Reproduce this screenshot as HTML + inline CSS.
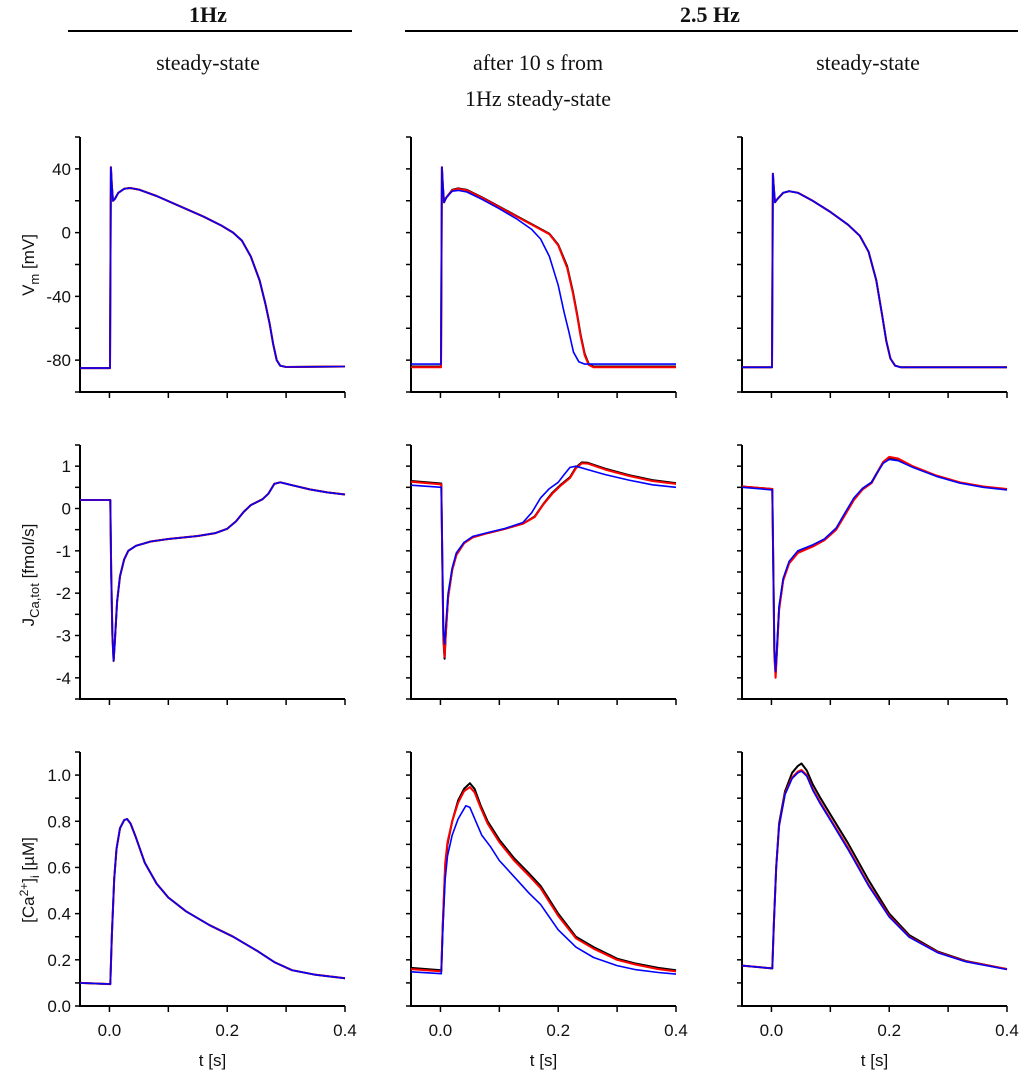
<!DOCTYPE html>
<html><head><meta charset="utf-8"><style>
body{margin:0;background:#fff}
svg{display:block}
.tk{font-family:"Liberation Sans",sans-serif;font-size:17px;fill:#111}
.hd{font-family:"Liberation Serif",serif;font-size:22px;fill:#111}
</style></head><body>
<svg id="fig" width="1024" height="1075" viewBox="0 0 1024 1075">
<g>
<text class="hd" x="208" y="22" text-anchor="middle" font-weight="bold">1Hz</text>
<line x1="68" y1="31" x2="352" y2="31" stroke="#000" stroke-width="2"/>
<text class="hd" x="710" y="22" text-anchor="middle" font-weight="bold">2.5 Hz</text>
<line x1="405" y1="31" x2="1018" y2="31" stroke="#000" stroke-width="2"/>
<text class="hd" x="208" y="70" text-anchor="middle">steady-state</text>
<text class="hd" x="538" y="70" text-anchor="middle">after  10 s  from</text>
<text class="hd" x="538" y="106" text-anchor="middle">1Hz steady-state</text>
<text class="hd" x="868" y="70" text-anchor="middle">steady-state</text>
</g>
<text class="tk" transform="translate(34,265) rotate(-90)" text-anchor="middle" font-size="18">V<tspan font-size="13" dy="5">m</tspan><tspan dy="-5">  [mV]</tspan></text>
<text class="tk" transform="translate(34,575) rotate(-90)" text-anchor="middle" font-size="18">J<tspan font-size="13" dy="5">Ca,tot</tspan><tspan dy="-5">  [fmol/s]</tspan></text>
<text class="tk" transform="translate(34,880) rotate(-90)" text-anchor="middle" font-size="18">[Ca<tspan font-size="12" dy="-6">2+</tspan><tspan dy="6">]</tspan><tspan font-size="12" dy="5">i</tspan><tspan dy="-5">  [µM]</tspan></text>
</svg>
<script>
// x-axis
const xMin=-0.05, xMax=0.4;
const xTicks=[0,0.1,0.2,0.3,0.4];
const xTickLabels=["0.0","0.2","0.4"];
const xLabelVals=[0,0.2,0.4];
// y-axes per row
const vmRange=[-100,60], vmTicks=[-100,-80,-60,-40,-20,0,20,40,60], vmLabelVals=[-80,-40,0,40], vmLabels=["-80","-40","0","40"];
const jRange=[-4.5,1.5], jTicks=[-4.5,-4,-3.5,-3,-2.5,-2,-1.5,-1,-0.5,0,0.5,1,1.5], jLabelVals=[-4,-3,-2,-1,0,1], jLabels=["-4","-3","-2","-1","0","1"];
const caRange=[0,1.1], caTicks=[0,0.1,0.2,0.3,0.4,0.5,0.6,0.7,0.8,0.9,1.0,1.1], caLabelVals=[0,0.2,0.4,0.6,0.8,1.0], caLabels=["0.0","0.2","0.4","0.6","0.8","1.0"];

// Vm data [t, mV]
const vm1=[[-0.05,-85],[0.001,-85],[0.0025,41],[0.004,30],[0.006,20],[0.009,21],[0.015,25],[0.025,27.5],[0.035,28],[0.05,27],[0.08,23],[0.12,16.5],[0.16,10],[0.19,4.5],[0.21,0],[0.225,-5],[0.24,-15],[0.255,-30],[0.265,-45],[0.272,-57],[0.278,-70],[0.284,-80],[0.29,-83.5],[0.3,-84.3],[0.4,-84]];
const vm2Red=[[-0.05,-84.5],[0.001,-84.5],[0.0025,41],[0.004,30],[0.006,19],[0.01,22],[0.02,26.5],[0.03,27.5],[0.045,26.5],[0.07,22],[0.1,16],[0.13,10],[0.16,4],[0.185,-1],[0.2,-8],[0.215,-22],[0.225,-38],[0.232,-52],[0.238,-65],[0.245,-77],[0.252,-83],[0.26,-84.5],[0.4,-84.5]];
const vm2Black=[[-0.05,-84],[0.001,-84],[0.0025,41],[0.004,30],[0.006,19],[0.01,22],[0.02,26.8],[0.03,27.8],[0.045,26.8],[0.07,22.3],[0.1,16.3],[0.13,10.3],[0.16,4.3],[0.185,-0.7],[0.2,-7.5],[0.215,-21],[0.225,-37],[0.232,-51],[0.238,-64],[0.245,-76],[0.252,-82.5],[0.26,-84],[0.4,-84]];
const vm2Blue=[[-0.05,-82.5],[0.001,-82.5],[0.0025,41],[0.004,30],[0.006,19],[0.01,22],[0.02,26],[0.03,26.5],[0.045,25.5],[0.07,21],[0.1,15],[0.13,8.5],[0.155,2],[0.17,-4],[0.185,-15],[0.2,-33],[0.21,-50],[0.218,-62],[0.226,-75],[0.235,-81],[0.245,-82.5],[0.4,-82.5]];
const vm3=[[-0.05,-84.5],[0.001,-84.5],[0.0025,37],[0.004,28],[0.006,19],[0.01,21],[0.02,25],[0.03,26],[0.045,25],[0.07,20],[0.1,13],[0.13,5],[0.15,-2],[0.165,-12],[0.178,-30],[0.188,-52],[0.195,-68],[0.202,-79],[0.21,-83.5],[0.22,-84.5],[0.4,-84.5]];

// J_Ca,tot data [t, fmol/s]
const j1=[[-0.05,0.2],[0.0015,0.2],[0.003,-1.5],[0.005,-3.0],[0.007,-3.6],[0.009,-3.2],[0.013,-2.2],[0.018,-1.6],[0.025,-1.2],[0.032,-1.0],[0.045,-0.88],[0.07,-0.78],[0.1,-0.72],[0.15,-0.65],[0.18,-0.58],[0.2,-0.48],[0.215,-0.3],[0.228,-0.08],[0.24,0.08],[0.26,0.22],[0.27,0.35],[0.28,0.58],[0.29,0.62],[0.31,0.55],[0.34,0.45],[0.37,0.38],[0.4,0.33]];
const j2Red=[[-0.05,0.63],[0.0015,0.57],[0.003,-1],[0.005,-3.0],[0.007,-3.5],[0.009,-3.0],[0.013,-2.1],[0.02,-1.45],[0.027,-1.1],[0.04,-0.82],[0.055,-0.68],[0.08,-0.58],[0.11,-0.48],[0.14,-0.36],[0.16,-0.2],[0.175,0.1],[0.19,0.35],[0.205,0.55],[0.22,0.72],[0.23,0.95],[0.24,1.07],[0.25,1.06],[0.28,0.92],[0.32,0.77],[0.36,0.65],[0.4,0.58]];
const j2Black=[[-0.05,0.65],[0.0015,0.59],[0.003,-1],[0.005,-3.1],[0.007,-3.55],[0.009,-3.0],[0.013,-2.1],[0.02,-1.45],[0.027,-1.1],[0.04,-0.82],[0.055,-0.68],[0.08,-0.58],[0.11,-0.48],[0.14,-0.36],[0.16,-0.19],[0.175,0.11],[0.19,0.37],[0.205,0.57],[0.22,0.74],[0.23,0.97],[0.24,1.09],[0.25,1.08],[0.28,0.94],[0.32,0.79],[0.36,0.67],[0.4,0.6]];
const j2Blue=[[-0.05,0.55],[0.0015,0.5],[0.003,-1],[0.005,-2.9],[0.007,-3.2],[0.009,-2.8],[0.013,-2.0],[0.02,-1.4],[0.027,-1.05],[0.04,-0.8],[0.055,-0.66],[0.08,-0.57],[0.11,-0.47],[0.14,-0.33],[0.155,-0.1],[0.17,0.25],[0.185,0.47],[0.2,0.62],[0.21,0.8],[0.22,0.97],[0.23,1.0],[0.25,0.92],[0.28,0.8],[0.32,0.67],[0.36,0.56],[0.4,0.5]];
const j3Red=[[-0.05,0.52],[0.0015,0.46],[0.003,-1.2],[0.005,-3.5],[0.007,-4.0],[0.009,-3.5],[0.013,-2.4],[0.02,-1.7],[0.03,-1.3],[0.045,-1.05],[0.07,-0.9],[0.09,-0.75],[0.11,-0.5],[0.125,-0.15],[0.14,0.2],[0.155,0.45],[0.17,0.6],[0.18,0.85],[0.19,1.1],[0.2,1.22],[0.215,1.18],[0.24,1.0],[0.28,0.78],[0.32,0.62],[0.36,0.52],[0.4,0.46]];
const j3Black=[[-0.05,0.52],[0.0015,0.46],[0.003,-1.2],[0.005,-3.4],[0.007,-3.9],[0.009,-3.45],[0.013,-2.35],[0.02,-1.68],[0.03,-1.28],[0.045,-1.03],[0.07,-0.88],[0.09,-0.73],[0.11,-0.48],[0.125,-0.13],[0.14,0.22],[0.155,0.47],[0.17,0.62],[0.18,0.86],[0.19,1.1],[0.2,1.2],[0.215,1.16],[0.24,0.99],[0.28,0.77],[0.32,0.61],[0.36,0.51],[0.4,0.45]];
const j3Blue=[[-0.05,0.5],[0.0015,0.44],[0.003,-1.2],[0.005,-3.35],[0.007,-3.85],[0.009,-3.4],[0.013,-2.3],[0.02,-1.65],[0.03,-1.25],[0.045,-1.0],[0.07,-0.86],[0.09,-0.72],[0.11,-0.46],[0.125,-0.1],[0.14,0.25],[0.155,0.48],[0.17,0.62],[0.18,0.85],[0.19,1.07],[0.2,1.16],[0.215,1.13],[0.24,0.97],[0.28,0.76],[0.32,0.6],[0.36,0.5],[0.4,0.44]];

// [Ca2+]i data [t, µM]
const ca1=[[-0.05,0.1],[0.0015,0.095],[0.004,0.3],[0.008,0.55],[0.012,0.68],[0.018,0.77],[0.025,0.805],[0.03,0.81],[0.036,0.79],[0.045,0.73],[0.06,0.62],[0.08,0.53],[0.1,0.47],[0.13,0.41],[0.17,0.35],[0.21,0.3],[0.25,0.24],[0.28,0.19],[0.31,0.155],[0.35,0.135],[0.4,0.12]];
const ca2Black=[[-0.05,0.165],[0.0015,0.155],[0.004,0.35],[0.008,0.6],[0.012,0.7],[0.02,0.8],[0.03,0.89],[0.04,0.94],[0.05,0.965],[0.058,0.94],[0.068,0.87],[0.08,0.8],[0.1,0.72],[0.125,0.64],[0.15,0.575],[0.17,0.52],[0.2,0.4],[0.23,0.3],[0.26,0.255],[0.3,0.205],[0.33,0.185],[0.37,0.165],[0.4,0.155]];
const ca2Red=[[-0.05,0.16],[0.0015,0.15],[0.004,0.36],[0.008,0.62],[0.012,0.71],[0.02,0.8],[0.03,0.88],[0.04,0.93],[0.05,0.948],[0.058,0.925],[0.068,0.86],[0.08,0.79],[0.1,0.71],[0.125,0.63],[0.15,0.565],[0.17,0.51],[0.2,0.39],[0.23,0.293],[0.26,0.248],[0.3,0.2],[0.33,0.18],[0.37,0.16],[0.4,0.15]];
const ca2Blue=[[-0.05,0.148],[0.0015,0.14],[0.004,0.33],[0.008,0.55],[0.012,0.65],[0.02,0.74],[0.03,0.81],[0.043,0.867],[0.05,0.86],[0.06,0.8],[0.07,0.74],[0.085,0.69],[0.1,0.63],[0.125,0.56],[0.15,0.49],[0.17,0.44],[0.2,0.33],[0.23,0.255],[0.26,0.21],[0.3,0.175],[0.33,0.158],[0.37,0.145],[0.4,0.138]];
const ca3Black=[[-0.05,0.175],[0.0015,0.163],[0.004,0.35],[0.008,0.6],[0.013,0.79],[0.023,0.93],[0.035,1.01],[0.045,1.04],[0.051,1.05],[0.06,1.02],[0.07,0.96],[0.082,0.906],[0.1,0.83],[0.13,0.705],[0.165,0.545],[0.2,0.4],[0.234,0.307],[0.283,0.235],[0.33,0.195],[0.4,0.16]];
const ca3Red=[[-0.05,0.175],[0.0015,0.163],[0.004,0.35],[0.008,0.6],[0.013,0.78],[0.023,0.92],[0.035,0.99],[0.045,1.015],[0.051,1.022],[0.06,1.0],[0.07,0.94],[0.082,0.886],[0.1,0.81],[0.13,0.685],[0.165,0.525],[0.2,0.39],[0.234,0.3],[0.283,0.232],[0.33,0.193],[0.4,0.16]];
const ca3Blue=[[-0.05,0.175],[0.0015,0.163],[0.004,0.35],[0.008,0.6],[0.013,0.78],[0.023,0.915],[0.035,0.985],[0.045,1.01],[0.051,1.017],[0.06,0.995],[0.07,0.935],[0.082,0.88],[0.1,0.805],[0.13,0.678],[0.165,0.52],[0.2,0.386],[0.234,0.298],[0.283,0.23],[0.33,0.192],[0.4,0.158]];

const NS="http://www.w3.org/2000/svg";
const svg=document.getElementById('fig');
const colX=[80,411,742], plotW=265;
const rows=[
 {top:137,bot:392,range:vmRange,ticks:vmTicks,lv:vmLabelVals,lt:vmLabels,name:'vm'},
 {top:445,bot:699,range:jRange,ticks:jTicks,lv:jLabelVals,lt:jLabels,name:'jca'},
 {top:752,bot:1006,range:caRange,ticks:caTicks,lv:caLabelVals,lt:caLabels,name:'ca'}];
const seriesGrid=[
 [[vm1,vm1,vm1],[vm2Black,vm2Red,vm2Blue],[vm3,vm3,vm3]],
 [[j1,j1,j1],[j2Black,j2Red,j2Blue],[j3Black,j3Red,j3Blue]],
 [[ca1,ca1,ca1],[ca2Black,ca2Red,ca2Blue],[ca3Black,ca3Red,ca3Blue]]];
const colors=['#000000','#ff0000','#0000ff'];
const seriesNames=['black','red','blue'];
function mk(tag,attrs){const e=document.createElementNS(NS,tag);for(const k in attrs)e.setAttribute(k,attrs[k]);return e;}
rows.forEach((r,ri)=>{
 colX.forEach((x0,ci)=>{
  const g=mk('g',{});
  
  
  svg.appendChild(g);
  const xs=t=>x0+(t-xMin)/(xMax-xMin)*plotW;
  const ys=v=>r.bot-(v-r.range[0])/(r.range[1]-r.range[0])*(r.bot-r.top);
  const ax=mk('path',{d:`M${x0},${r.top}V${r.bot}H${x0+plotW}`,fill:'none',stroke:'#000','stroke-width':2});
  
  
  g.appendChild(ax);
  r.ticks.forEach(v=>{
   const l=mk('line',{x1:x0-5,x2:x0,y1:ys(v),y2:ys(v),stroke:'#000','stroke-width':1.5});
   
   
   g.appendChild(l);
  });
  xTicks.forEach(t=>{
   const l=mk('line',{x1:xs(t),x2:xs(t),y1:r.bot,y2:r.bot+6,stroke:'#000','stroke-width':1.5});
   
   
   g.appendChild(l);
  });
  if(ci===0){
   r.lv.forEach((v,i)=>{
    const t=mk('text',{x:x0-9,y:ys(v)+6,'text-anchor':'end',class:'tk'});
    t.textContent=r.lt[i];
    
    
    g.appendChild(t);
   });
  }
  if(ri===2){
   xLabelVals.forEach((v,i)=>{
    const t=mk('text',{x:xs(v),y:r.bot+30,'text-anchor':'middle',class:'tk'});
    t.textContent=xTickLabels[i];
    
    
    g.appendChild(t);
   });
   const xt=mk('text',{x:xs(0.175),y:r.bot+60,'text-anchor':'middle',class:'tk','font-size':18});
   xt.textContent='t [s]';
   
   
   g.appendChild(xt);
  }
  seriesGrid[ri][ci].forEach((s,si)=>{
   const p=mk('polyline',{points:s.map(d=>xs(d[0]).toFixed(1)+','+ys(d[1]).toFixed(1)).join(' '),fill:'none',stroke:colors[si],'stroke-width':si===2?1.6:2,'stroke-linejoin':'round'});
   
   
   g.appendChild(p);
  });
 });
});
</script>
</body></html>
